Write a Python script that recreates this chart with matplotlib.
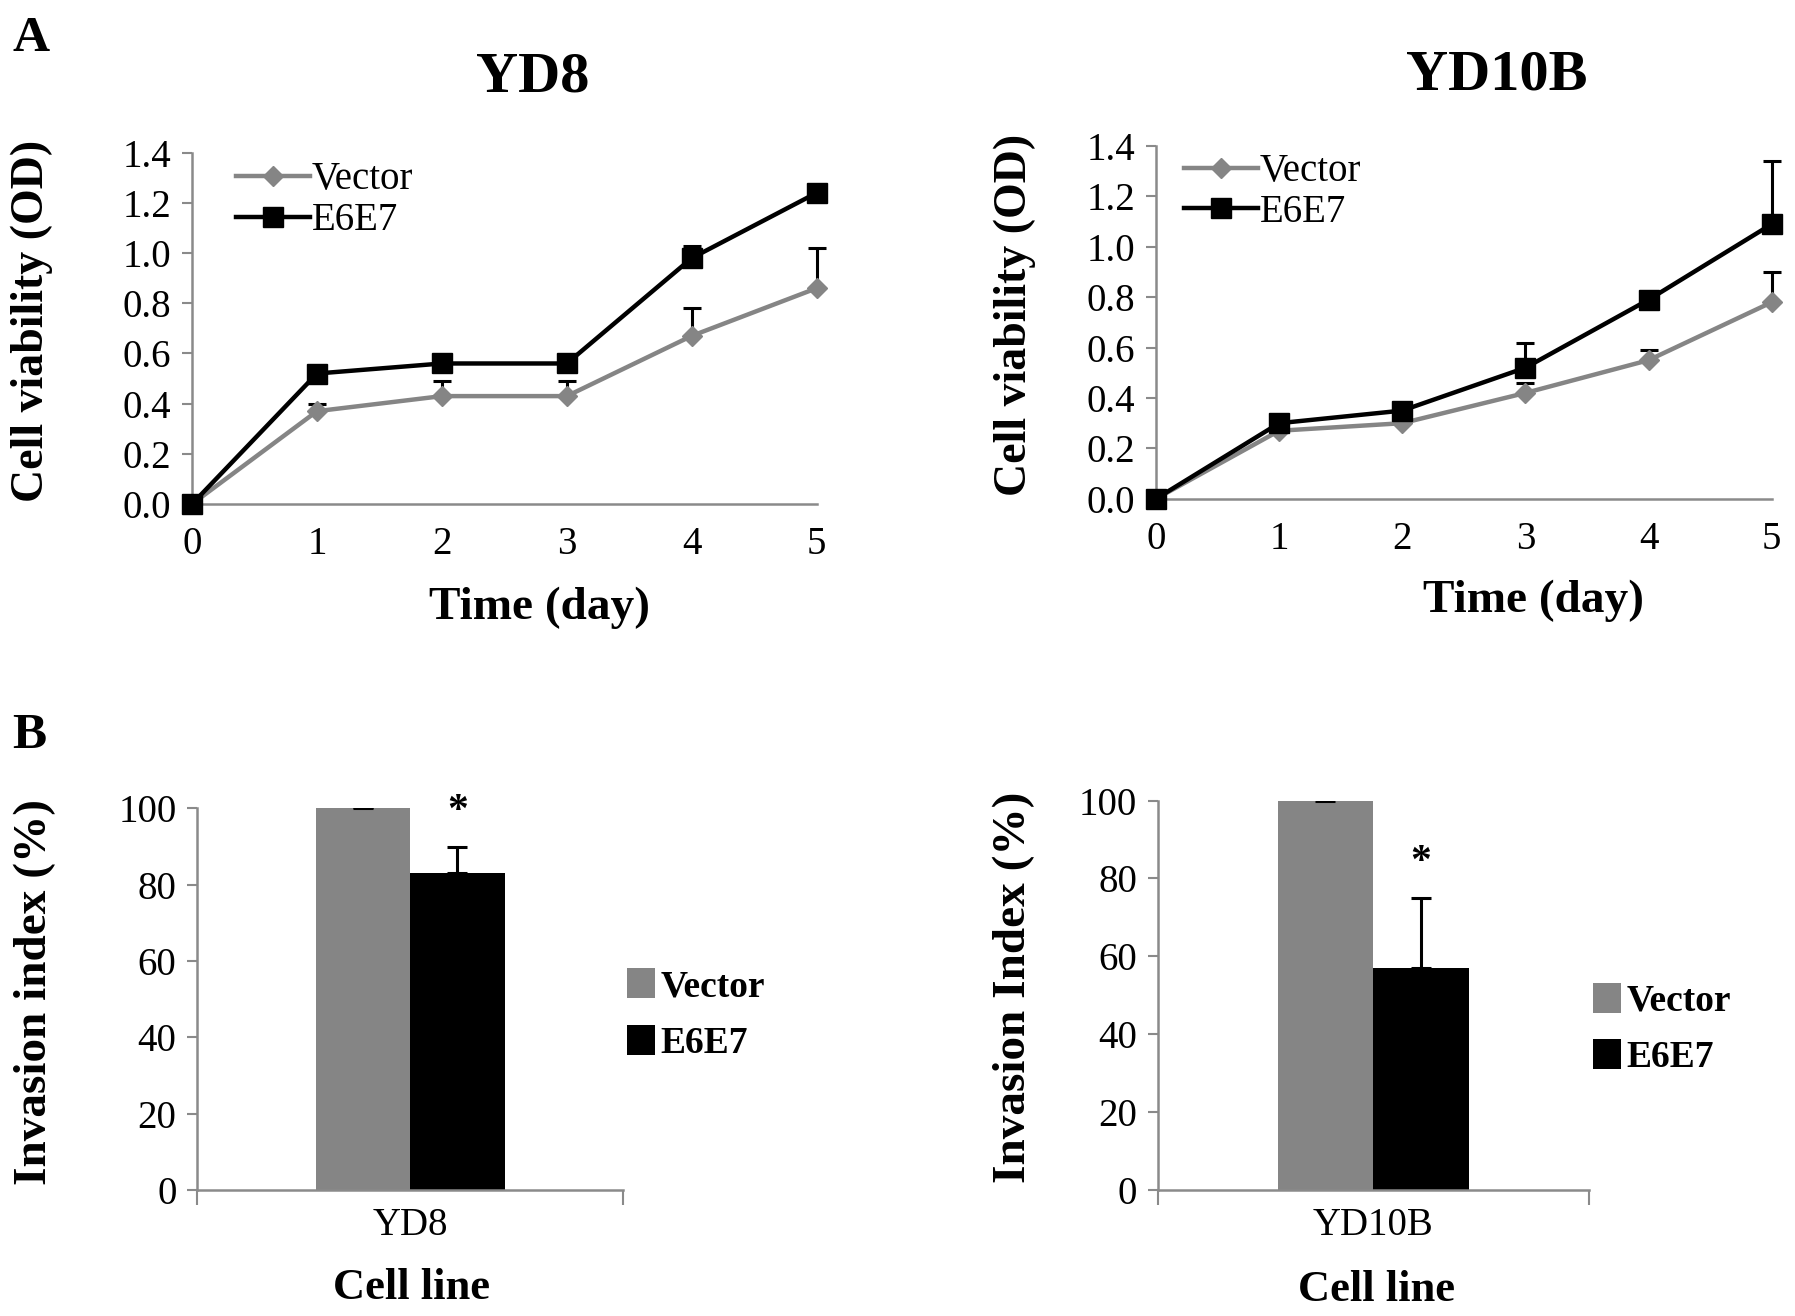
import matplotlib
matplotlib.use("Agg")
import matplotlib.pyplot as plt
import numpy as np

plt.rcParams['font.family'] = ['Liberation Serif', 'DejaVu Serif']

# --- data ---
days = [0, 1, 2, 3, 4, 5]

yd8_vector = [0.0, 0.37, 0.43, 0.43, 0.67, 0.86]
yd8_vector_err = [0.0, 0.03, 0.06, 0.06, 0.11, 0.16]
yd8_e6e7 = [0.0, 0.52, 0.56, 0.56, 0.98, 1.24]
yd8_e6e7_err = [0.0, 0.01, 0.01, 0.01, 0.05, 0.01]

yd10b_vector = [0.0, 0.27, 0.30, 0.42, 0.55, 0.78]
yd10b_vector_err = [0.0, 0.01, 0.01, 0.04, 0.04, 0.12]
yd10b_e6e7 = [0.0, 0.30, 0.35, 0.52, 0.79, 1.09]
yd10b_e6e7_err = [0.0, 0.03, 0.01, 0.10, 0.01, 0.25]

groups = ["Vector", "E6E7"]
inv_yd8 = [100, 83]
inv_yd8_err = [0.4, 7]
inv_yd10b = [100, 57]
inv_yd10b_err = [0.4, 18]

GRAY = "#858585"
AXC = "#8a8a8a"

fig = plt.figure(figsize=(17.95, 13.16), dpi=100)


def line_panel(rect, title, title_xy, vec, vec_err, e67, e67_err, leg_anchor, xlab_xy, ylab_x):
    ax = fig.add_axes(rect)
    ax.errorbar(days, vec, yerr=[np.zeros(len(vec)), vec_err], fmt="none",
                ecolor="black", elinewidth=2.2, capsize=6.5, capthick=2.2, clip_on=False, zorder=2)
    ax.errorbar(days, e67, yerr=[np.zeros(len(e67)), e67_err], fmt="none",
                ecolor="black", elinewidth=2.2, capsize=6.5, capthick=2.2, clip_on=False, zorder=2)
    ax.plot(days, vec, color=GRAY, lw=3.2, marker="D", ms=10, mfc=GRAY, mec=GRAY,
            label="Vector", clip_on=False, zorder=3)
    ax.plot(days, e67, color="black", lw=3.2, marker="s", ms=15, mfc="black", mec="black",
            label="E6E7", clip_on=False, zorder=4)
    ax.set_xlim(0, 5)
    ax.set_ylim(0, 1.4)
    ax.set_yticks(np.arange(0, 1.41, 0.2))
    ax.set_yticklabels(["%.1f" % v for v in np.arange(0, 1.41, 0.2)])
    ax.set_xticks(days)
    for s in ["top", "right"]:
        ax.spines[s].set_visible(False)
    for s in ["left", "bottom"]:
        ax.spines[s].set_color(AXC)
        ax.spines[s].set_linewidth(1.8)
    ax.tick_params(axis="y", direction="out", length=7, width=1.5, color=AXC, pad=8, labelsize=28)
    ax.tick_params(axis="x", length=0, pad=16, labelsize=28)
    ax.set_xlabel("Time (day)", fontsize=34, fontweight="bold")
    ax.xaxis.set_label_coords(*xlab_xy)
    ax.set_ylabel("Cell viability (OD)", fontsize=33, fontweight="bold")
    ax.yaxis.set_label_coords(ylab_x, 0.52)
    ax.legend(loc="upper left", bbox_to_anchor=leg_anchor, frameon=False, fontsize=28,
              handlelength=1.9, handletextpad=0.05, labelspacing=0.1, borderpad=0, borderaxespad=0)
    fig.text(title_xy[0], title_xy[1], title, fontsize=42, fontweight="bold", ha="center", va="center")
    return ax


def bar_panel(rect, cat, vals, errs, ylabel, leg_y, xlab_xy, ylab_x):
    ax = fig.add_axes(rect)
    w = 0.222
    xs = [0.5 - w / 2, 0.5 + w / 2]
    colors = [GRAY, "black"]
    for x, v, e, c, g in zip(xs, vals, errs, colors, groups):
        ax.bar(x, v, width=w, color=c, label=g, zorder=2)
        ax.errorbar(x, v, yerr=[[0], [e]], fmt="none", ecolor="black", elinewidth=2.2,
                    capsize=7, capthick=2.2, zorder=3)
    ax.text(xs[1], vals[1] + errs[1] + 4, "*", fontsize=30, fontweight="bold", ha="center", va="bottom")
    ax.set_xlim(0, 1)
    ax.set_ylim(0, 100)
    ax.set_yticks(range(0, 101, 20))
    ax.set_xticks([0, 1])
    ax.set_xticklabels(["", ""])
    ax.set_xticks([0.5], minor=True)
    ax.set_xticklabels([cat], minor=True)
    for s in ["top", "right"]:
        ax.spines[s].set_visible(False)
    for s in ["left", "bottom"]:
        ax.spines[s].set_color(AXC)
        ax.spines[s].set_linewidth(1.8)
    ax.tick_params(axis="y", direction="out", length=7, width=1.5, color=AXC, pad=8, labelsize=28)
    ax.tick_params(axis="x", which="major", direction="out", length=11, width=1.5, color=AXC)
    ax.tick_params(axis="x", which="minor", length=0, pad=12, labelsize=28)
    ax.set_xlabel("Cell line", fontsize=32, fontweight="bold")
    ax.xaxis.set_label_coords(*xlab_xy)
    ax.set_ylabel(ylabel, fontsize=34, fontweight="bold")
    ax.yaxis.set_label_coords(ylab_x, 0.52)
    ax.legend(loc="center left", bbox_to_anchor=(1.01, leg_y), frameon=False,
              prop={"size": 27, "weight": "bold"}, handlelength=0.75, handleheight=0.85,
              handletextpad=0.15, labelspacing=0.55, borderpad=0, borderaxespad=0)
    return ax


line_panel([0.107, 0.617, 0.348, 0.267], "YD8", (0.2966, 0.941),
           yd8_vector, yd8_vector_err, yd8_e6e7, yd8_e6e7_err,
           (0.07, 0.975), (0.556, -0.235), -0.222)
line_panel([0.644, 0.621, 0.343, 0.268], "YD10B", (0.834, 0.943),
           yd10b_vector, yd10b_vector_err, yd10b_e6e7, yd10b_e6e7_err,
           (0.045, 0.98), (0.613, -0.23), -0.195)

bar_panel([0.110, 0.0957, 0.237, 0.290], "YD8", inv_yd8, inv_yd8_err,
          "Invasion index (%)", 0.46, (0.503, -0.204), -0.333)
bar_panel([0.645, 0.0957, 0.240, 0.296], "YD10B", inv_yd10b, inv_yd10b_err,
          "Invasion Index (%)", 0.413, (0.508, -0.206), -0.285)

fig.text(0.007, 0.988, "A", fontsize=37, fontweight="bold", ha="left", va="top")
fig.text(0.007, 0.458, "B", fontsize=37, fontweight="bold", ha="left", va="top")

fig.savefig("out.png", dpi=100)
